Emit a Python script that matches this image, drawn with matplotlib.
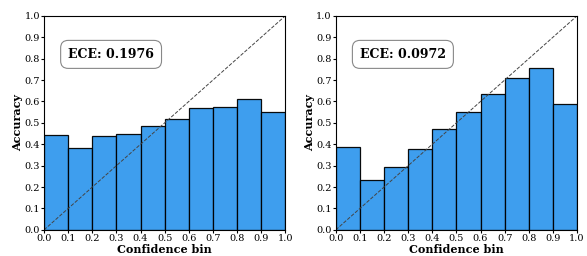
import numpy as np
import matplotlib
matplotlib.use("Agg")
import matplotlib.pyplot as plt

plt.rcParams['font.family'] = 'DejaVu Serif'

bins = np.arange(0, 1.0, 0.1)
acc_left = [0.443, 0.381, 0.440, 0.450, 0.487, 0.520, 0.570, 0.575, 0.613, 0.549]
acc_right = [0.385, 0.232, 0.295, 0.380, 0.470, 0.553, 0.635, 0.710, 0.757, 0.588]
ece_labels = ["ECE: 0.1976", "ECE: 0.0972"]
ticks = np.round(np.arange(0, 1.01, 0.1), 1)

fig = plt.figure(figsize=(5.87, 2.56), dpi=100)
axes = [fig.add_axes([0.075, 0.102, 0.411, 0.836]),
        fig.add_axes([0.572, 0.102, 0.411, 0.836])]

for ax, acc, lab in zip(axes, [acc_left, acc_right], ece_labels):
    ax.bar(bins, acc, width=0.1, align='edge', color='#3399ee',
           edgecolor='black', linewidth=0.9, alpha=0.95)
    ax.plot([0, 1], [0, 1], '--', color='#444444', linewidth=0.7)
    ax.set_xlim(0, 1)
    ax.set_ylim(0, 1)
    ax.set_xticks(ticks)
    ax.set_yticks(ticks)
    ax.set_xticklabels([f"{t:.1f}" for t in ticks])
    ax.set_yticklabels([f"{t:.1f}" for t in ticks])
    ax.tick_params(labelsize=7, length=2, pad=1)
    ax.set_xlabel("Confidence bin", fontsize=8, fontweight='bold', labelpad=1)
    ax.set_ylabel("Accuracy", fontsize=8, fontweight='bold', labelpad=1)
    ax.text(0.1, 0.82, lab, transform=ax.transAxes, fontsize=9,
            fontweight='bold', va='center',
            bbox=dict(boxstyle='round,pad=0.6', facecolor='white',
                      edgecolor='#888888', linewidth=0.8))

fig.savefig("out.png", dpi=100)
